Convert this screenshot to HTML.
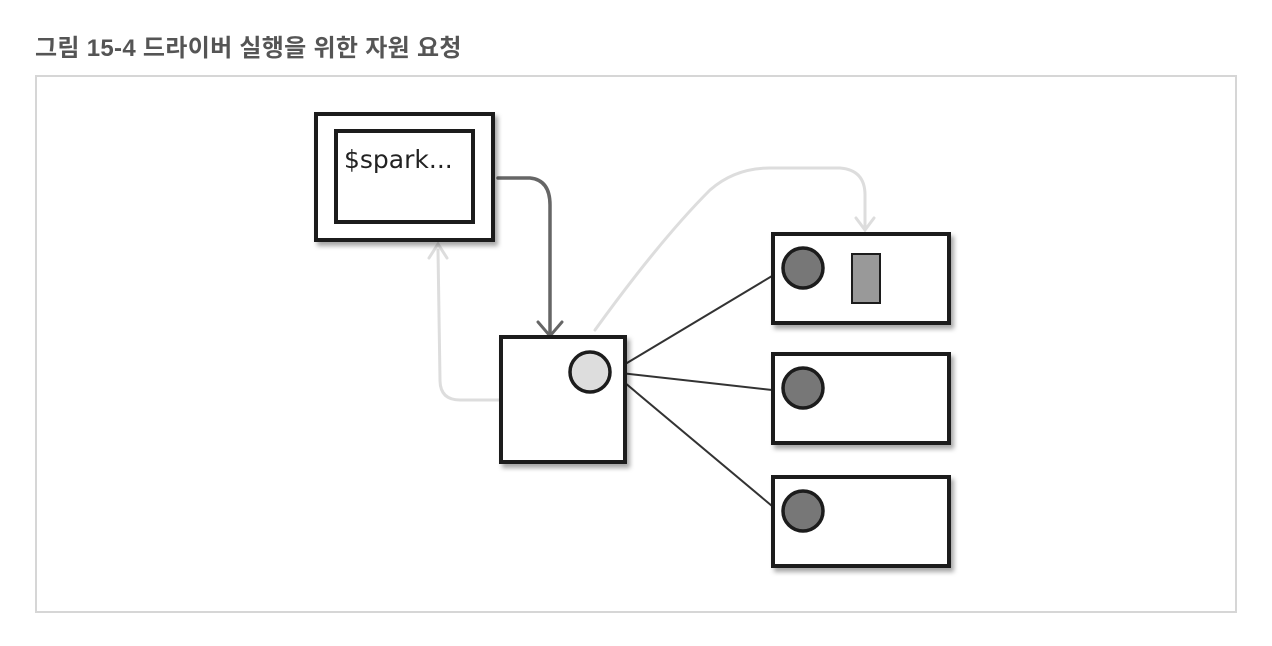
<!DOCTYPE html>
<html><head><meta charset="utf-8"><style>
body{margin:0;background:#fff;width:1272px;height:646px;overflow:hidden;position:relative;font-family:"Liberation Sans","Noto Sans CJK KR",sans-serif}
.t{position:absolute;left:35px;top:28px;font-size:24px;font-weight:bold;color:#555;letter-spacing:0.3px}
.p{position:absolute;left:35px;top:75px;width:1198px;height:534px;border:2px solid #d6d6d6}
</style></head><body>
<div class="t">그림 15-4 드라이버 실행을 위한 자원 요청</div>
<div class="p"></div>
<svg width="1272" height="646" style="position:absolute;left:0;top:0">
<defs><filter id="s" x="-20%" y="-20%" width="140%" height="140%"><feDropShadow dx="3" dy="4" stdDeviation="2.5" flood-color="#000" flood-opacity="0.35"/></filter></defs>
<g fill="none" stroke-linecap="round">
<path d="M595 330 Q660 240 710 190 Q735 168 770 168 L840 168 Q865 170 865 195 L865 228" stroke="#ddd" stroke-width="3"/>
<path d="M856 218 L865 230 L874 218" stroke="#ddd" stroke-width="3"/>
<path d="M500 400 L460 400 Q440 400 440 380 L438 250" stroke="#ddd" stroke-width="3"/>
<path d="M429 258 L438 244 L447 258" stroke="#ddd" stroke-width="3"/>
<path d="M498 178 L530 178 Q550 180 550 205 L550 333" stroke="#666" stroke-width="3.5"/>
<path d="M538 322 L550 336 L562 322" stroke="#666" stroke-width="3"/>
<path d="M612 372 L772 276 M612 372 L772 390 M612 372 L772 506" stroke="#333" stroke-width="2"/>
</g>
<g stroke="#1a1a1a" stroke-width="4" fill="#fff" filter="url(#s)">
<rect x="316" y="114" width="177" height="126"/>
<rect x="336" y="131" width="137" height="91"/>
<rect x="501" y="337" width="124" height="125"/>
<rect x="773" y="234" width="176" height="89"/>
<rect x="773" y="354" width="176" height="89"/>
<rect x="773" y="477" width="176" height="89"/>
<circle cx="590" cy="372" r="20" fill="#ddd" stroke-width="3.5"/>
<circle cx="803" cy="268" r="20" fill="#777" stroke-width="3.5"/>
<circle cx="803" cy="388" r="20" fill="#777" stroke-width="3.5"/>
<circle cx="803" cy="511" r="20" fill="#777" stroke-width="3.5"/>
<rect x="852" y="254" width="28" height="49" fill="#999" stroke-width="2"/>
</g>
<text x="344" y="168" font-family="'DejaVu Sans',sans-serif" font-size="25" fill="#222">$spark...</text>
</svg>
</body></html>
